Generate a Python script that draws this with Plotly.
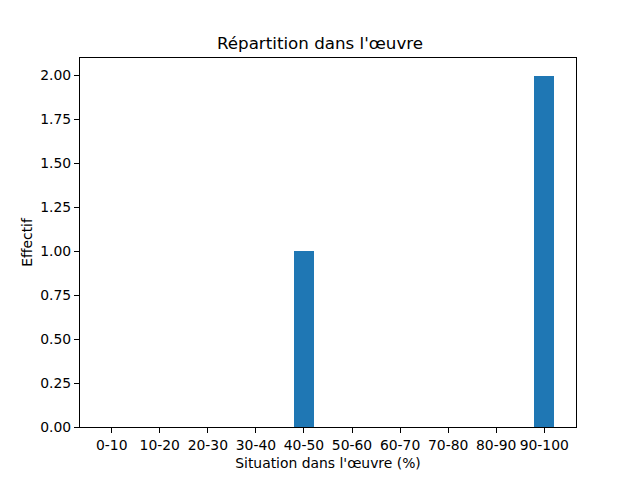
import plotly.graph_objects as go

categories = ["0-10", "10-20", "20-30", "30-40", "40-50", "50-60", "60-70", "70-80", "80-90", "90-100"]
counts = [0, 0, 0, 0, 1, 0, 0, 0, 0, 2]
y_ticks = [0, 0.25, 0.5, 0.75, 1.0, 1.25, 1.5, 1.75, 2.0]

positions = list(range(len(categories)))

W, H = 632, 472  # page body has an 8px margin

fig = go.Figure(go.Bar(x=positions, y=counts, width=0.41, marker=dict(color="#1f77b4", line=dict(width=0))))

fig.update_layout(
    width=W, height=H,
    margin=dict(l=72, r=64, t=49.6, b=52.8, autoexpand=False),
    paper_bgcolor="white", plot_bgcolor="white",
    font=dict(family="DejaVu Sans", size=13.9, color="black"),
    title=dict(text="Répartition dans l'œuvre", x=(320 - 8) / W, xanchor="center", y=1 - 35 / H, yanchor="middle",
               font=dict(size=16.7, color="black")),
    showlegend=False,
    bargap=0,
)
fig.update_xaxes(
    range=[-0.66, 9.66], tickmode="array", tickvals=positions, ticktext=categories,
    showgrid=False, zeroline=False, showline=True, linecolor="black", linewidth=1, mirror=True,
    ticks="outside", ticklen=5, tickcolor="black",
    title=dict(text="Situation dans l'œuvre (%)", font=dict(size=13.9), standoff=6),
)
fig.update_yaxes(
    range=[0, 2.1], tickmode="array", tickvals=y_ticks, ticktext=[f"{v:.2f}" for v in y_ticks],
    showgrid=False, zeroline=False, showline=True, linecolor="black", linewidth=1, mirror=True,
    ticks="outside", ticklen=5, tickcolor="black",
    title=dict(text="Effectif", font=dict(size=13.9), standoff=4),
)

fig.write_html("out.html")
